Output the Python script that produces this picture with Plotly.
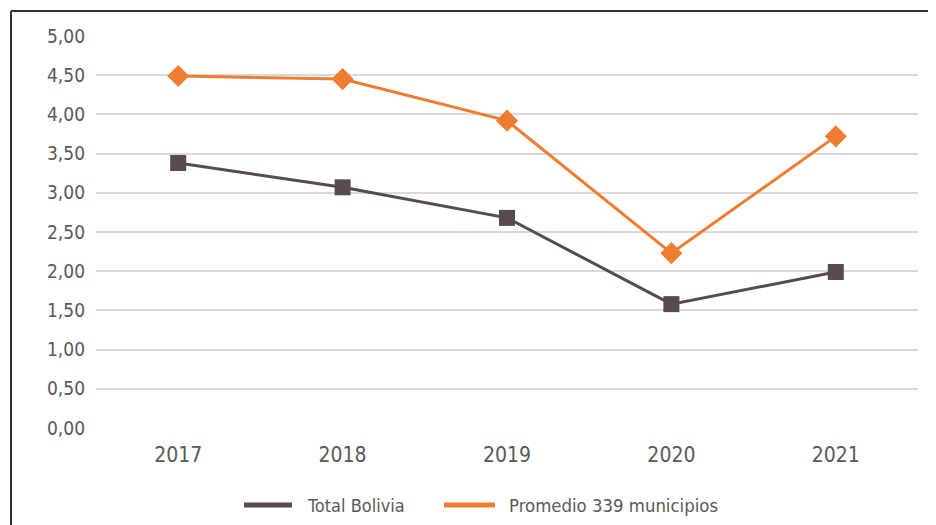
import plotly.graph_objects as go

years = ["2017", "2018", "2019", "2020", "2021"]
total_bolivia = [3.38, 3.07, 2.68, 1.58, 1.99]
promedio_339 = [4.49, 4.45, 3.92, 2.23, 3.72]
series_names = ["Total Bolivia", "Promedio 339 municipios"]
y_ticks = [0, 0.5, 1, 1.5, 2, 2.5, 3, 3.5, 4, 4.5, 5]
y_tick_labels = [f"{v:.2f}".replace(".", ",") for v in y_ticks]

C_DARK = "#574B4B"
C_ORANGE = "#EF7D31"
TXT = "#595959"
FONT = "DejaVu Sans Condensed, Roboto, sans-serif"

# page body has an 8px margin: figure starts at (8, 8) in the window
OFF = 8
W, H = 936 - OFF, 525 - OFF
L, R, T, B = 96 - OFF, 18, 36 - OFF, 97
pw, ph = W - L - R, H - T - B

fig = go.Figure()
fig.add_trace(go.Scatter(x=years, y=total_bolivia, mode="lines+markers", name=series_names[0],
                         line=dict(color=C_DARK, width=3),
                         marker=dict(symbol="square", size=16, color=C_DARK),
                         showlegend=False))
fig.add_trace(go.Scatter(x=years, y=promedio_339, mode="lines+markers", name=series_names[1],
                         line=dict(color=C_ORANGE, width=3),
                         marker=dict(symbol="diamond", size=17, color=C_ORANGE),
                         showlegend=False))

def px(x):  # window pixel -> paper
    return (x - OFF - L) / pw

def py(y):
    return (H - B - (y - OFF)) / ph

shapes = [
    dict(type="line", xref="paper", yref="paper", x0=px(11), x1=px(940), y0=py(11), y1=py(11),
         line=dict(color="#333333", width=2)),
    dict(type="line", xref="paper", yref="paper", x0=px(11), x1=px(11), y0=py(11), y1=py(530),
         line=dict(color="#333333", width=2)),
    dict(type="line", xref="paper", yref="paper", x0=px(244), x1=px(292), y0=py(505), y1=py(505),
         line=dict(color=C_DARK, width=5)),
    dict(type="line", xref="paper", yref="paper", x0=px(444), x1=px(495), y0=py(505), y1=py(505),
         line=dict(color=C_ORANGE, width=5)),
]
annotations = [
    dict(xref="paper", yref="paper", x=px(305), y=py(505), text=series_names[0], showarrow=False,
         xanchor="left", yanchor="middle", font=dict(family=FONT, size=18, color=TXT)),
    dict(xref="paper", yref="paper", x=px(507), y=py(505), text=series_names[1], showarrow=False,
         xanchor="left", yanchor="middle", font=dict(family=FONT, size=18.4, color=TXT)),
]

fig.update_layout(
    width=W, height=H,
    margin=dict(l=L, r=R, t=T, b=B),
    paper_bgcolor="white", plot_bgcolor="white",
    font=dict(family=FONT, size=18, color=TXT),
    showlegend=False,
    shapes=shapes, annotations=annotations,
    xaxis=dict(type="category", range=[-0.5, 4.5], showgrid=False, showline=False,
               ticks="", tickfont=dict(size=21, color=TXT), ticklabelstandoff=12),
    yaxis=dict(range=[0, 5], tickvals=y_ticks, ticktext=y_tick_labels, showgrid=True,
               gridcolor="#D9D9D9", gridwidth=1.5, zeroline=False, showline=False,
               ticks="", tickfont=dict(size=19, color=TXT), ticklabelstandoff=10),
)

fig.write_html("out.html")
